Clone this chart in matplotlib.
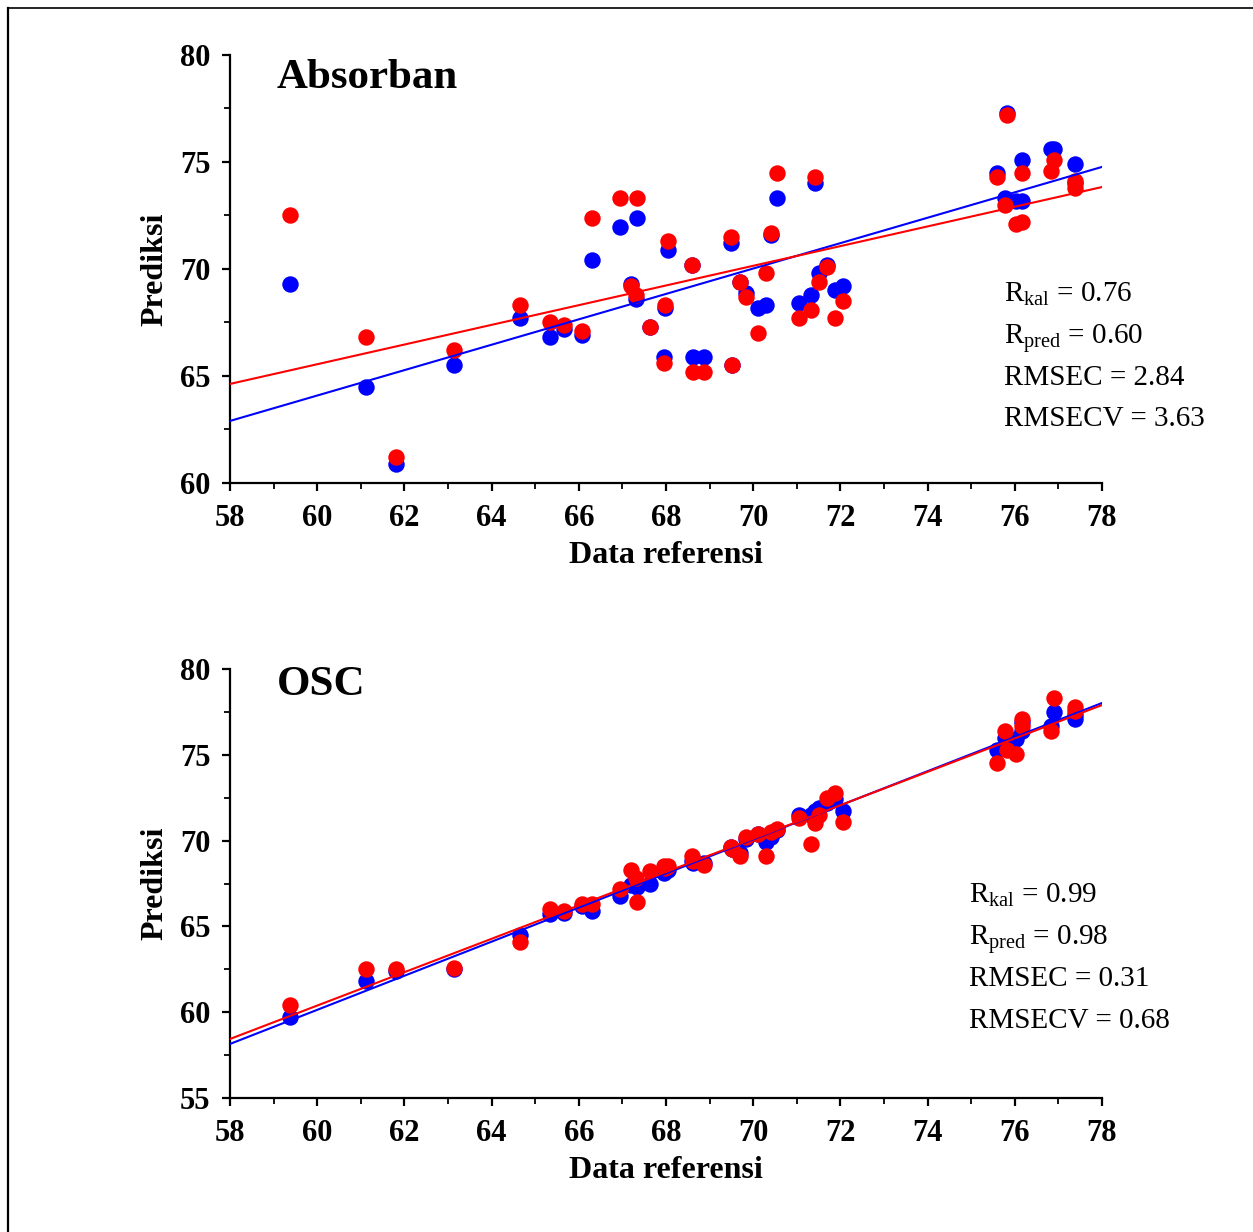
import matplotlib
matplotlib.use("Agg")
import matplotlib.pyplot as plt
from matplotlib.ticker import MultipleLocator
from matplotlib.lines import Line2D

plt.rcParams['font.family'] = ['Liberation Serif', 'DejaVu Serif']
plt.rcParams['mathtext.fontset'] = 'custom'
plt.rcParams['mathtext.rm'] = 'Liberation Serif'
plt.rcParams['mathtext.it'] = 'Liberation Serif:italic'

# reference values (shared by both panels)
ref = [59.38, 61.12, 61.81, 63.14, 64.65, 65.34, 65.66, 66.07, 66.30, 66.94,
       67.20, 67.33, 67.31, 67.63, 67.95, 67.97, 68.05, 68.60, 68.62, 68.87,
       69.50, 69.52, 69.70, 69.83, 70.10, 70.30, 70.40, 70.55, 71.05, 71.33,
       71.42, 71.50, 71.70, 71.88, 72.06, 75.59, 75.78, 75.82, 76.03, 76.17,
       76.17, 76.83, 76.90, 77.38, 77.38]

# Absorban panel
abs_kal = [69.3, 64.5, 60.9, 65.5, 67.7, 66.8, 67.2, 66.9, 70.4, 71.96,
           69.3, 72.4, 68.6, 67.3, 65.9, 68.2, 70.9, 70.2, 65.9, 65.9,
           71.2, 65.5, 69.4, 68.9, 68.2, 68.3, 71.6, 73.3, 68.4, 68.8,
           74.0, 69.8, 70.2, 69.0, 69.2, 74.5, 73.3, 77.3, 73.2, 75.1,
           73.2, 75.6, 75.6, 74.9, 74.0]
abs_pred = [72.5, 66.8, 61.2, 66.2, 68.3, 67.5, 67.4, 67.1, 72.4, 73.3,
            69.2, 73.3, 68.8, 67.3, 65.6, 68.3, 71.3, 70.2, 65.2, 65.2,
            71.5, 65.5, 69.4, 68.7, 67.0, 69.8, 71.7, 74.5, 67.7, 68.1,
            74.3, 69.4, 70.1, 67.7, 68.5, 74.3, 73.0, 77.2, 72.1, 74.5,
            72.2, 74.6, 75.1, 74.1, 73.8]

# OSC panel
osc_kal = [59.7, 61.8, 62.4, 62.5, 64.5, 65.7, 65.8, 66.2, 65.9, 66.8,
           67.4, 67.3, 67.5, 67.5, 68.1, 68.2, 68.3, 68.8, 68.7, 68.7,
           69.6, 69.5, 69.3, 70.1, 70.4, 69.9, 70.2, 70.6, 71.5, 71.5,
           71.7, 71.9, 72.2, 72.4, 71.7, 75.3, 76.0, 75.5, 75.9, 76.4,
           76.9, 76.7, 77.5, 77.1, 77.3]
osc_pred = [60.4, 62.5, 62.5, 62.6, 64.1, 66.0, 65.9, 66.3, 66.3, 67.2,
            68.3, 66.4, 67.8, 68.2, 68.5, 68.4, 68.5, 69.1, 68.8, 68.6,
            69.6, 69.5, 69.1, 70.2, 70.4, 69.1, 70.5, 70.7, 71.3, 69.8,
            71.0, 71.5, 72.5, 72.8, 71.1, 74.5, 76.4, 75.3, 75.05, 76.7,
            77.1, 76.4, 78.3, 77.8, 77.55]

# regression lines (values at x = 58 and x = 78)
line_x = [58, 78]
abs_line_kal = [62.9, 74.77]
abs_line_pred = [64.63, 73.83]
osc_line_kal = [58.15, 78.02]
osc_line_pred = [58.44, 77.90]

abs_stats = [r"R$_{\mathrm{kal}}$ = 0.76", r"R$_{\mathrm{pred}}$ = 0.60",
             "RMSEC = 2.84", "RMSECV = 3.63"]
osc_stats = [r"R$_{\mathrm{kal}}$ = 0.99", r"R$_{\mathrm{pred}}$ = 0.98",
             "RMSEC = 0.31", "RMSECV = 0.68"]

W, H = 1253, 1232
fig = plt.figure(figsize=(W / 100, H / 100), dpi=100)

def frac(px, py):
    return px / W, 1 - py / H

def make_panel(rect, ylim, ymajor, yk, yp, lk, lp, title, title_y, stats, sx, sy0):
    ax = fig.add_axes(rect)
    ax.scatter(ref, yk, s=140, color='#0000ff', linewidths=0, zorder=2, clip_on=False)
    ax.scatter(ref, yp, s=140, color='#ff0000', linewidths=0, zorder=3, clip_on=False)
    ax.plot(line_x, lk, color='#0000ff', lw=1.5, zorder=4)
    ax.plot(line_x, lp, color='#ff0000', lw=1.5, zorder=5)
    ax.set_xlim(58, 78)
    ax.set_ylim(*ylim)
    ax.xaxis.set_major_locator(MultipleLocator(2))
    ax.xaxis.set_minor_locator(MultipleLocator(1))
    ax.yaxis.set_major_locator(MultipleLocator(ymajor))
    ax.yaxis.set_minor_locator(MultipleLocator(2.5))
    for s in ['top', 'right']:
        ax.spines[s].set_visible(False)
    for s in ['left', 'bottom']:
        ax.spines[s].set_linewidth(1.6)
    ax.tick_params(which='major', direction='out', length=6, width=1.6,
                   labelsize=22)
    ax.tick_params(axis='x', which='major', pad=9)
    ax.tick_params(axis='y', which='major', pad=8)
    ax.tick_params(which='minor', direction='out', length=4, width=1.3)
    for lab in ax.get_xticklabels() + ax.get_yticklabels():
        lab.set_fontweight('bold')
    ax.set_xlabel("Data referensi", fontsize=23, fontweight='bold', labelpad=6)
    ax.set_ylabel("Prediksi", fontsize=23, fontweight='bold', labelpad=8)
    ax.text(0.054, title_y, title, transform=ax.transAxes, fontsize=31,
            fontweight='bold', va='top', ha='left')
    for i, s in enumerate(stats):
        x, y = frac(sx, sy0 + i * 41.5)
        fig.text(x, y, s, fontsize=21, ha='left', va='baseline')
    return ax

ax1 = make_panel([230 / W, 1 - 483 / H, 872 / W, 428 / H], (60, 80), 5,
                 abs_kal, abs_pred, abs_line_kal, abs_line_pred,
                 "Absorban", 0.99, abs_stats, 1004, 302)
ax2 = make_panel([230 / W, 1 - 1098 / H, 872 / W, 429 / H], (55, 80), 5,
                 osc_kal, osc_pred, osc_line_kal, osc_line_pred,
                 "OSC", 1.006, osc_stats, 969, 903)

# outer frame (top and left edges)
fig.add_artist(Line2D([8 / W, 1.0], [1 - 8 / H, 1 - 8 / H], color='black',
                      lw=1.2, transform=fig.transFigure))
fig.add_artist(Line2D([8 / W, 8 / W], [1 - 8 / H, 0.0], color='black',
                      lw=1.6, transform=fig.transFigure))

fig.savefig("out.png", dpi=100)
